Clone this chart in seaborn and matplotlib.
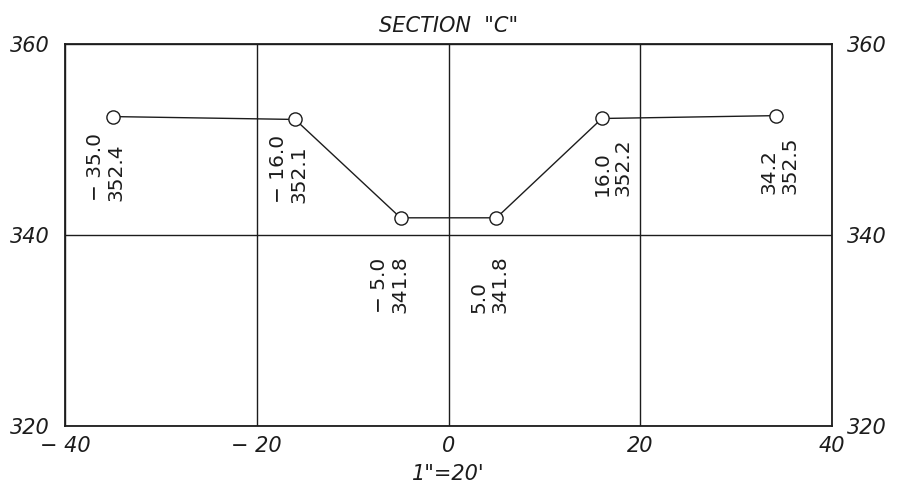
import matplotlib
matplotlib.use("Agg")
import matplotlib.pyplot as plt
import seaborn as sns
import pandas as pd

# ---- data ----
offsets = [-35.0, -16.0, -5.0, 5.0, 16.0, 34.2]
elevations = [352.4, 352.1, 341.8, 341.8, 352.2, 352.5]
x_ticks = [-40, -20, 0, 20, 40]
y_ticks = [320, 340, 360]
title_text = 'SECTION  "C"'
xlabel_text = '1"=20\''

# label offsets in pixels (left edge / bottom edge of rotated label from point)
label_dx = [-27, -26, -31, -27, -9, -17]
label_dy = [-84, -84, -95, -95, -78, -78]

df = pd.DataFrame({"offset": offsets, "elevation": elevations})

sns.set_theme(style="white")
plt.rcParams["font.family"] = ["DejaVu Sans"]

ink = "#1c1c1c"
fig = plt.figure(figsize=(9.01, 4.88), dpi=100)
ax = fig.add_axes([65 / 901, 1 - 426 / 488, (832 - 65) / 901, (426 - 44) / 488])

sns.lineplot(data=df, x="offset", y="elevation", sort=False, ax=ax,
             color=ink, linewidth=1.0, marker="o", markersize=9.5,
             markerfacecolor="white", markeredgecolor=ink, markeredgewidth=1.0,
             zorder=5)

ax.set_xlim(-40, 40)
ax.set_ylim(320, 360)
ax.set_xticks(x_ticks)
ax.set_yticks(y_ticks)
ax.set_xticklabels([f"{v}".replace("-", "\u2212 ") if v < 0 else f"{v}" for v in x_ticks])
ax.grid(True, color=ink, linewidth=1.0)
for s in ax.spines.values():
    s.set_color(ink)
    s.set_linewidth(1.3)
    s.set_visible(True)

ax.tick_params(axis="both", length=0, labelsize=15, colors=ink)
ax.tick_params(axis="y", labelright=True, pad=11)
ax.tick_params(axis="x", pad=7)
for tk in ax.xaxis.get_major_ticks():
    tk.label1.set_fontstyle("italic")
for tk in ax.yaxis.get_major_ticks():
    tk.label1.set_fontstyle("italic")
    tk.label2.set_fontstyle("italic")
    tk.label2.set_fontsize(15)

ax.set_xlabel(xlabel_text, fontsize=15, fontstyle="italic", color=ink, labelpad=6)
ax.set_ylabel("")
ax.set_title(title_text, fontsize=15, fontstyle="italic", color=ink, pad=9)

for x, y, dx, dy in zip(offsets, elevations, label_dx, label_dy):
    ax.annotate(f"{x:.1f}".replace("-", "\u2212 ") + "\n" + f"{y:.1f}",
                xy=(x, y), xytext=(dx, dy), textcoords="offset pixels",
                rotation=90, ha="left", va="bottom", multialignment="left",
                fontsize=14.5, linespacing=1.12, color=ink, zorder=6)

fig.savefig("out.png", dpi=100, facecolor="white")
